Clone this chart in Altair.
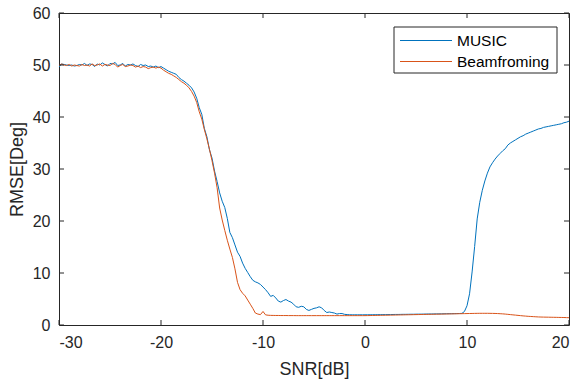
import altair as alt
import pandas as pd

# SNR grid: -30 dB to 20 dB in 0.25 dB steps (201 points)
snr_start = -30.0
snr_step = 0.25

music = [
    49.6, 50.2, 50.1, 50.0, 49.9, 50.0, 49.8, 49.9,   # -30 .. -28.25
    50.1, 50.0, 50.3, 49.9, 50.2, 50.1, 49.7, 50.2,   # -28 .. -26.25
    50.0, 50.4, 50.1, 49.8, 50.3, 50.2, 50.5, 49.9,   # -26 .. -24.25
    50.0, 50.3, 49.8, 50.1, 50.0, 50.2, 49.9, 49.7,   # -24 .. -22.25
    50.1, 49.9, 50.0, 49.7, 49.8, 49.6, 49.8, 49.5,   # -22 .. -20.25
    49.7, 49.4, 49.1, 48.8, 48.6, 48.4, 48.2, 47.6,   # -20 .. -18.25
    47.2, 46.9, 46.5, 46.1, 45.6, 44.8, 43.6, 41.8,   # -18 .. -16.25
    40.5, 37.8, 36.2, 33.7, 32.1, 29.6, 27.6, 25.4,   # -16 .. -14.25
    23.8, 22.6, 20.5, 17.8, 16.8, 15.4, 14.0, 13.2,   # -14 .. -12.25
    11.9, 10.9, 10.1, 9.3, 8.6, 8.3, 8.1, 7.8,        # -12 .. -10.25
    7.3, 6.8, 6.2, 5.5, 5.7, 5.2, 4.6, 4.4,           # -10 .. -8.25
    4.7, 4.9, 4.6, 4.4, 4.0, 3.5, 3.4, 3.6,           # -8 .. -6.25
    3.5, 3.0, 2.8, 3.0, 3.2, 3.3, 3.5, 3.3,           # -6 .. -4.25
    2.8, 2.4, 2.5, 2.4, 2.3, 2.1, 2.2, 2.2,           # -4 .. -2.25
    2.05, 2.0, 1.97, 1.96, 1.96, 1.96, 1.96, 1.96,    # -2 .. -0.25
    1.96, 1.97, 1.97, 1.98, 1.98, 1.99, 1.99, 2.0,    # 0 .. 1.75
    2.0, 2.01, 2.01, 2.02, 2.03, 2.03, 2.04, 2.05,    # 2 .. 3.75
    2.05, 2.06, 2.07, 2.07, 2.08, 2.09, 2.09, 2.1,    # 4 .. 5.75
    2.11, 2.12, 2.12, 2.13, 2.14, 2.14, 2.15, 2.16,   # 6 .. 7.75
    2.17, 2.18, 2.18, 2.19, 2.2, 2.21, 2.23, 2.6,     # 8 .. 9.75
    3.7, 6.0, 10.2, 15.1, 20.4, 23.6, 25.9, 27.7,     # 10 .. 11.75
    29.2, 30.4, 31.2, 31.9, 32.5, 33.0, 33.5, 33.9,   # 12 .. 13.75
    34.6, 35.0, 35.3, 35.6, 35.9, 36.2, 36.4, 36.7,   # 14 .. 15.75
    36.9, 37.1, 37.3, 37.5, 37.7, 37.8, 38.0, 38.1,   # 16 .. 17.75
    38.2, 38.3, 38.4, 38.5, 38.6, 38.7, 38.9, 39.0,   # 18 .. 19.75
    39.2,                                             # 20
]

beamforming = [
    49.9, 50.2, 50.0, 49.9, 50.1, 49.8, 50.0, 49.9,   # -30 .. -28.25
    49.8, 50.1, 49.9, 50.0, 49.8, 50.2, 49.9, 50.0,   # -28 .. -26.25
    50.2, 49.8, 50.1, 50.0, 49.9, 50.3, 50.1, 49.6,   # -26 .. -24.25
    49.9, 50.1, 49.7, 49.8, 50.0, 49.9, 49.6, 49.8,   # -24 .. -22.25
    49.5, 49.7, 49.6, 49.3, 49.5, 49.6, 49.4, 49.6,   # -22 .. -20.25
    49.4, 49.0, 48.7, 48.4, 48.2, 47.9, 47.6, 47.2,   # -20 .. -18.25
    46.8, 46.5, 46.1, 45.6, 44.9, 44.0, 42.8, 41.0,   # -18 .. -16.25
    39.6, 37.6, 35.8, 33.8, 31.6, 29.2, 26.4, 22.5,   # -16 .. -14.25
    20.2, 18.2, 16.3, 14.6, 13.0, 10.8, 8.2, 6.8,     # -14 .. -12.25
    6.1, 5.6, 4.8, 4.0, 3.2, 2.3, 2.1, 2.0,           # -12 .. -10.25
    2.6, 1.95, 1.88, 1.85, 1.84, 1.83, 1.83, 1.82,    # -10 .. -8.25
    1.82, 1.82, 1.81, 1.81, 1.81, 1.8, 1.8, 1.8,      # -8 .. -6.25
    1.8, 1.8, 1.8, 1.8, 1.8, 1.8, 1.8, 1.8,           # -6 .. -4.25
    1.8, 1.8, 1.8, 1.8, 1.8, 1.8, 1.8, 1.8,           # -4 .. -2.25
    1.8, 1.8, 1.8, 1.8, 1.8, 1.8, 1.8, 1.8,           # -2 .. -0.25
    1.8, 1.81, 1.82, 1.83, 1.84, 1.85, 1.86, 1.87,    # 0 .. 1.75
    1.88, 1.89, 1.9, 1.91, 1.92, 1.93, 1.94, 1.95,    # 2 .. 3.75
    1.96, 1.97, 1.98, 1.99, 2.0, 2.01, 2.02, 2.03,    # 4 .. 5.75
    2.04, 2.05, 2.06, 2.07, 2.08, 2.09, 2.1, 2.11,    # 6 .. 7.75
    2.12, 2.13, 2.14, 2.15, 2.16, 2.17, 2.18, 2.19,   # 8 .. 9.75
    2.2, 2.21, 2.22, 2.23, 2.24, 2.25, 2.25, 2.25,    # 10 .. 11.75
    2.25, 2.24, 2.23, 2.22, 2.2, 2.17, 2.14, 2.1,     # 12 .. 13.75
    2.05, 2.0, 1.95, 1.9, 1.85, 1.8, 1.75, 1.71,      # 14 .. 15.75
    1.67, 1.64, 1.61, 1.58, 1.55, 1.53, 1.52, 1.51,   # 16 .. 17.75
    1.5, 1.49, 1.48, 1.47, 1.46, 1.45, 1.44, 1.42,    # 18 .. 19.75
    1.4,                                              # 20
]

series_names = ["MUSIC", "Beamfroming"]
series_colors = ["#0072BD", "#D95319"]
x_ticks = [-30, -20, -10, 0, 10, 20]
y_ticks = [0, 10, 20, 30, 40, 50, 60]

W, H = 510, 312
AXC = "#262626"
FONT = "Liberation Sans"

music_df = pd.DataFrame({
    "snr": [snr_start + snr_step * i for i in range(len(music))],
    "rmse": music,
    "series": series_names[0],
})
beam_df = pd.DataFrame({
    "snr": [snr_start + snr_step * i for i in range(len(beamforming))],
    "rmse": beamforming,
    "series": series_names[1],
})

xscale = alt.Scale(domain=[-30, 20], nice=False, zero=False)
yscale = alt.Scale(domain=[0, 60], nice=False, zero=False)
cscale = alt.Scale(domain=series_names, range=series_colors)

x_enc = alt.X("snr:Q", scale=xscale,
              axis=alt.Axis(values=x_ticks, title="SNR[dB]",
                            labelExpr="toString(datum.value)"))
y_enc = alt.Y("rmse:Q", scale=yscale,
              axis=alt.Axis(values=y_ticks, title="RMSE[Deg]",
                            labelExpr="toString(datum.value)"))
c_enc = alt.Color("series:N", scale=cscale, legend=None)

line_music = alt.Chart(music_df).mark_line(strokeWidth=1, clip=True).encode(
    x=x_enc, y=y_enc, color=c_enc)
line_beam = alt.Chart(beam_df).mark_line(strokeWidth=1, clip=True).encode(
    x="snr:Q", y="rmse:Q", color=c_enc)

# inward ticks (MATLAB style) on all four sides
xt_df = pd.DataFrame({"snr": x_ticks})
yt_df = pd.DataFrame({"rmse": y_ticks})
tick_bottom = alt.Chart(xt_df).mark_rule(color=AXC, strokeWidth=1).encode(
    x="snr:Q", y=alt.value(H), y2=alt.value(H - 5))
tick_top = alt.Chart(xt_df).mark_rule(color=AXC, strokeWidth=1).encode(
    x="snr:Q", y=alt.value(0), y2=alt.value(5))
tick_left = alt.Chart(yt_df).mark_rule(color=AXC, strokeWidth=1).encode(
    y="rmse:Q", x=alt.value(0), x2=alt.value(5))
tick_right = alt.Chart(yt_df).mark_rule(color=AXC, strokeWidth=1).encode(
    y="rmse:Q", x=alt.value(W), x2=alt.value(W - 5))

# legend box (drawn manually, MATLAB style)
LX0, LX1, LY0, LY1 = 335, 498, 14, 60
leg_box = alt.Chart(pd.DataFrame({"a": [0]})).mark_rect(
    fill="white", stroke=AXC, strokeWidth=1).encode(
    x=alt.value(LX0), x2=alt.value(LX1), y=alt.value(LY0), y2=alt.value(LY1))

leg_layers = []
row_y = [27.5, 48.5]
for name, ry in zip(series_names, row_y):
    d = pd.DataFrame({"series": [name]})
    leg_layers.append(alt.Chart(d).mark_rule(strokeWidth=1).encode(
        x=alt.value(LX0 + 6), x2=alt.value(LX0 + 58),
        y=alt.value(ry), color=c_enc))
    leg_layers.append(alt.Chart(d).mark_text(
        align="left", baseline="middle", fontSize=15.5, font=FONT, color="#000000").encode(
        x=alt.value(LX0 + 63), y=alt.value(ry + 0.5), text="series:N"))

chart = alt.layer(
    line_music, line_beam,
    tick_bottom, tick_top, tick_left, tick_right,
    leg_box, *leg_layers,
).properties(
    width=W, height=H,
    autosize=alt.AutoSizeParams(type="none"),
    padding={"left": 59, "top": 13, "right": 11, "bottom": 56},
    background="white",
).configure_view(
    stroke=AXC, strokeWidth=1,
).configure_axis(
    grid=False, ticks=False, domain=False,
    labelFont=FONT, labelFontSize=16, labelColor=AXC, labelPadding=9,
    titleFont=FONT, titleFontSize=18, titleColor=AXC, titleFontWeight="normal",
).configure_axisX(
    titlePadding=10,
).configure_axisY(
    titlePadding=6,
)

chart.save("out.html", embed_options={"renderer": "svg", "actions": False})
